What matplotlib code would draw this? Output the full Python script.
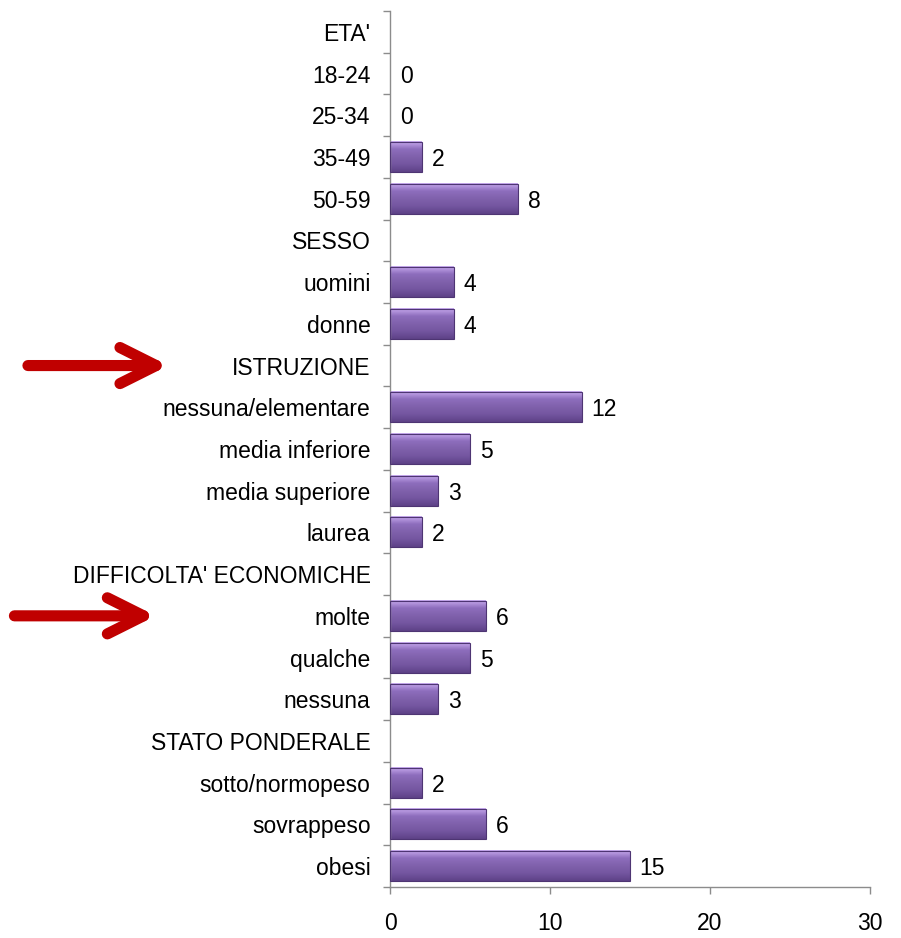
import numpy as np
import matplotlib.pyplot as plt
from matplotlib.colors import LinearSegmentedColormap

plt.rcParams['font.family'] = ['Liberation Sans', 'DejaVu Sans']

categorie = ["ETA'", "18-24", "25-34", "35-49", "50-59",
             "SESSO", "uomini", "donne",
             "ISTRUZIONE", "nessuna/elementare", "media inferiore", "media superiore", "laurea",
             "DIFFICOLTA' ECONOMICHE", "molte", "qualche", "nessuna",
             "STATO PONDERALE", "sotto/normopeso", "sovrappeso", "obesi"]
valori = [None, 0, 0, 2, 8,
          None, 4, 4,
          None, 12, 5, 3, 2,
          None, 6, 5, 3,
          None, 2, 6, 15]
frecce = ["ISTRUZIONE", "molte"]

fig = plt.figure(figsize=(9.01, 9.38), dpi=100)
ax = fig.add_axes([0.4329, 0.0544, 0.9656 - 0.4329, 0.9883 - 0.0544])

n = len(categorie)
y = np.arange(n)
h = 0.72
grad = np.linspace(0, 1, 64).reshape(-1, 1)
cmap = LinearSegmentedColormap.from_list(
    "viola", ["#c9acf0", "#8e6ebd", "#8061ac", "#7456a0", "#5e4288"])

for yi, v in zip(y, valori):
    if v is None:
        continue
    if v > 0:
        ax.imshow(grad, extent=(0, v, yi + h / 2, yi - h / 2), aspect='auto',
                  cmap=cmap, interpolation='bilinear', zorder=2)
        ax.add_patch(plt.Rectangle((0, yi - h / 2), v, h, fill=False,
                                   edgecolor="#4e3573", linewidth=0.8, zorder=3))
    ax.text(v + 0.6, yi, str(v), va='center_baseline', ha='left', fontsize=16.5, color='black')

ax.set_xlim(0, 30)
ax.set_ylim(n - 0.5, -0.5)
ax.set_xticks([0, 10, 20, 30])
ax.tick_params(axis='x', labelsize=16.5, length=5, width=1, color='#8c8c8c', pad=13)
ax.set_yticks(y)
ax.set_yticklabels(categorie, fontsize=16.5)
ax.tick_params(axis='y', which='major', length=0, pad=14)
ax.set_yticks(np.arange(-0.5, n, 1), minor=True)
ax.tick_params(axis='y', which='minor', length=5, width=1, color='#8c8c8c', direction='out')

for s in ['top', 'right']:
    ax.spines[s].set_visible(False)
for s in ['left', 'bottom']:
    ax.spines[s].set_color('#8c8c8c')
    ax.spines[s].set_linewidth(1)

# frecce rosse
frecce_pos = {"ISTRUZIONE": (0.031, 0.187), "molte": (0.016, 0.173)}
for nome in frecce:
    yi = categorie.index(nome)
    x0, x1 = frecce_pos[nome]
    yf = fig.transFigure.inverted().transform(ax.transData.transform((0, yi)))[1]
    ax.annotate('', xy=(x1, yf), xytext=(x0, yf), xycoords='figure fraction',
                textcoords='figure fraction',
                arrowprops=dict(arrowstyle='->,head_length=2.6,head_width=1.3',
                                color='#c00000', lw=8, capstyle='round',
                                joinstyle='round', shrinkA=0, shrinkB=0),
                annotation_clip=False)

fig.savefig('out.png', dpi=100)
